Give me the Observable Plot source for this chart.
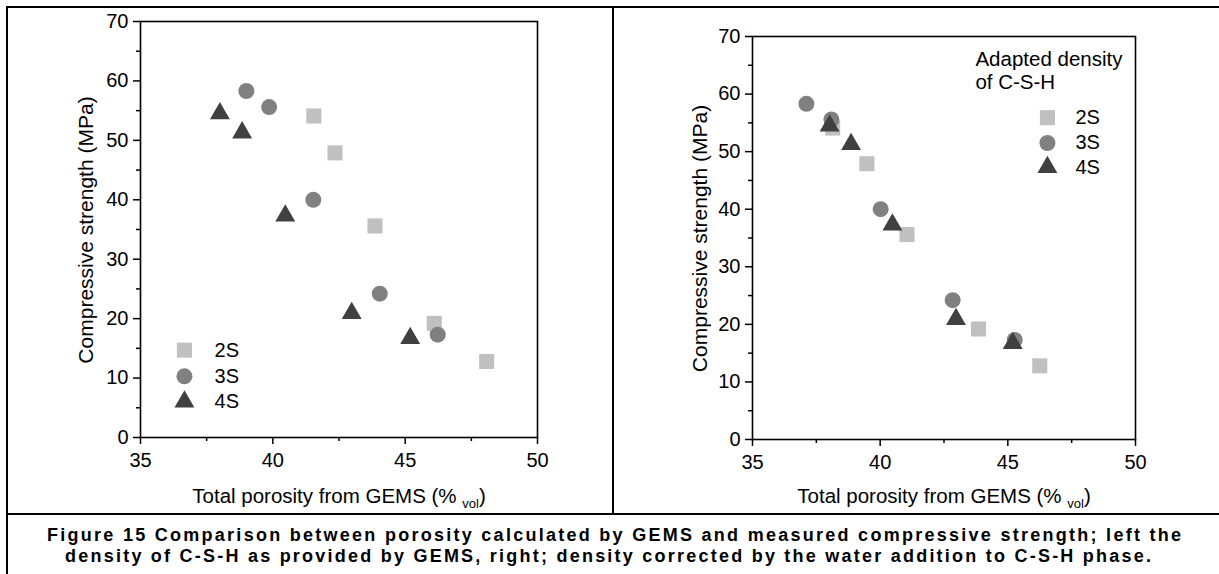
<!DOCTYPE html>
<html><head><meta charset="utf-8">
<script src="https://cdn.jsdelivr.net/npm/d3@7"></script>
<script src="https://cdn.jsdelivr.net/npm/@observablehq/plot@0.6"></script>
<style>
html,body{margin:0;padding:0;background:#fff;}
#wrap{position:relative;width:1219px;height:574px;overflow:hidden;font-family:"Liberation Sans",Arial,sans-serif;background:#fff;}
.panel{position:absolute;top:0;}
.line{position:absolute;background:#000;z-index:5;}
#cap{position:absolute;left:0;top:514px;}
</style></head><body>
<div id="wrap">
  <div id="left" class="panel" style="left:0px"></div>
  <div id="right" class="panel" style="left:614px"></div>
  <svg id="cap" width="1219" height="60"></svg>
  <div class="line" style="left:6px;top:6px;width:1213px;height:2px"></div>
  <div class="line" style="left:6px;top:6px;width:2px;height:568px"></div>
  <div class="line" style="left:612px;top:6px;width:2px;height:508px"></div>
  <div class="line" style="left:6px;top:513px;width:1213px;height:2px"></div>
</div>
<script>
// ---- data ----
const series = ["2S", "3S", "4S"];
const seriesColors = ["#c0c0c0", "#808080", "#404040"];
const seriesSymbols = ["square", "circle", "triangle"];
// compressive strength (MPa)
const strength2S = [54.1, 47.9, 35.6, 19.2, 12.8];
const strength3S = [58.3, 55.6, 40.0, 24.2, 17.3];
const strength4S = [54.5, 51.3, 37.3, 20.9, 16.7];
// porosity, left panel (GEMS density)
const leftPorosity2S = [41.55, 42.35, 43.86, 46.10, 48.08];
const leftPorosity3S = [39.00, 39.86, 41.53, 44.04, 46.23];
const leftPorosity4S = [38.00, 38.84, 40.47, 42.98, 45.19];
// porosity, right panel (adapted density)
const rightPorosity2S = [38.14, 39.48, 41.05, 43.85, 46.25];
const rightPorosity3S = [37.11, 38.09, 40.02, 42.84, 45.27];
const rightPorosity4S = [38.02, 38.86, 40.48, 42.97, 45.19];
const xTicks = [35, 40, 45, 50];
const xMinorTicks = [37.5, 42.5, 47.5];
const yTicks = [0, 10, 20, 30, 40, 50, 60, 70];
const yMinorTicks = [5, 15, 25, 35, 45, 55, 65];
const xTitle = "Total porosity from GEMS (% ";
const xTitleSub = "vol";
const yTitle = "Compressive strength (MPa)";
const rightNote = ["Adapted density", "of C-S-H"];
const captionLines = [
  "Figure 15 Comparison between porosity calculated by GEMS and measured compressive strength; left the",
  "density of C-S-H as provided by GEMS, right; density corrected by the water addition to C-S-H phase."
];

const strengths = [strength2S, strength3S, strength4S];

function makePanel(el, porosities, cfg) {
  const rows = series.map((s, i) => porosities[i].map((x, j) => ({series: s, x, y: strengths[i][j]})));
  const legendRows = series.map((s, i) => ({s, i, x: cfg.legX, y: cfg.legY[i]}));
  const marks = [
    Plot.axisX({ticks: xTicks, tickSize: 7, tickPadding: 8, strokeWidth: 1.5, label: null, fontSize: 20}),
    Plot.axisX({ticks: xMinorTicks, tickSize: 4, strokeWidth: 1.5, tickFormat: () => "", label: null}),
    Plot.axisY({ticks: yTicks, tickSize: 7, tickPadding: 5, strokeWidth: 1.5, label: null, fontSize: 20}),
    Plot.axisY({ticks: yMinorTicks, tickSize: 4, strokeWidth: 1.5, tickFormat: () => "", label: null}),
    Plot.frame({stroke: "#000", strokeWidth: 1.6})
  ];
  rows.forEach((r, i) => {
    marks.push(Plot.dot(r, {x: "x", y: "y", symbol: seriesSymbols[i], fill: seriesColors[i], stroke: "none", r: cfg.r[i]}));
  });
  legendRows.forEach(d => {
    marks.push(Plot.dot([d], {x: "x", y: "y", symbol: seriesSymbols[d.i], fill: seriesColors[d.i], stroke: "none", r: cfg.r[d.i]}));
    marks.push(Plot.text([d], {x: cfg.legTextX, y: "y", text: "s", textAnchor: "start", fontSize: 20, fill: "#000"}));
  });
  if (cfg.note) {
    cfg.note.forEach((t, k) => {
      marks.push(Plot.text([t], {x: cfg.noteX, y: cfg.noteY[k], text: d => d, textAnchor: "start", fontSize: 20.5, fill: "#000"}));
    });
  }
  const chart = Plot.plot({
    width: cfg.width, height: 512,
    marginLeft: cfg.ml, marginRight: cfg.mr, marginTop: cfg.mt, marginBottom: cfg.mb,
    x: {domain: [35, 50], label: null},
    y: {domain: [0, 70], label: null},
    style: {fontFamily: "'Liberation Sans', Arial, sans-serif", fontSize: "20px", color: "#000", background: "transparent", overflow: "visible"},
    marks
  });
  const svg = d3.select(chart);
  const xt = svg.append("text").attr("x", cfg.xtx).attr("y", 503).attr("text-anchor", "middle")
    .attr("font-size", 20.5).attr("fill", "#000");
  xt.append("tspan").text(xTitle);
  xt.append("tspan").attr("font-size", 13).attr("dy", 5).text(xTitleSub);
  xt.append("tspan").attr("dy", -5).text(")");
  svg.append("text").attr("transform", `translate(${cfg.ytx},${cfg.yty}) rotate(-90)`)
    .attr("text-anchor", "middle").attr("font-size", 21).attr("fill", "#000").text(yTitle);
  el.appendChild(chart);
}

makePanel(document.getElementById("left"), [leftPorosity2S, leftPorosity3S, leftPorosity4S], {
  width: 612, ml: 140, mr: 75, mt: 21, mb: 75,
  r: [8.5, 8, 7.4],
  legX: 36.66, legTextX: 37.8, legY: [14.7, 10.3, 6.0],
  xtx: 339, ytx: 93, yty: 230
});
makePanel(document.getElementById("right"), [rightPorosity2S, rightPorosity3S, rightPorosity4S], {
  width: 605, ml: 138, mr: 84, mt: 36, mb: 73,
  r: [8.5, 8, 7.4],
  legX: 46.55, legTextX: 47.65, legY: [55.9, 51.5, 47.3],
  note: rightNote, noteX: 43.73, noteY: [66.1, 62.1],
  xtx: 330, ytx: 93, yty: 238.5
});

const cap = d3.select("#cap");
const capPos = [{x: 614, y: 27, w: 1134}, {x: 608, y: 47.5, w: 1086}];
captionLines.forEach((t, i) => {
  cap.append("text").attr("x", capPos[i].x).attr("y", capPos[i].y).attr("text-anchor", "middle")
    .attr("font-family", "'Liberation Sans', Arial, sans-serif").attr("font-weight", "bold").attr("font-size", 18)
    .attr("textLength", capPos[i].w).attr("lengthAdjust", "spacing").attr("fill", "#000").text(t);
});
</script>
</body></html>
